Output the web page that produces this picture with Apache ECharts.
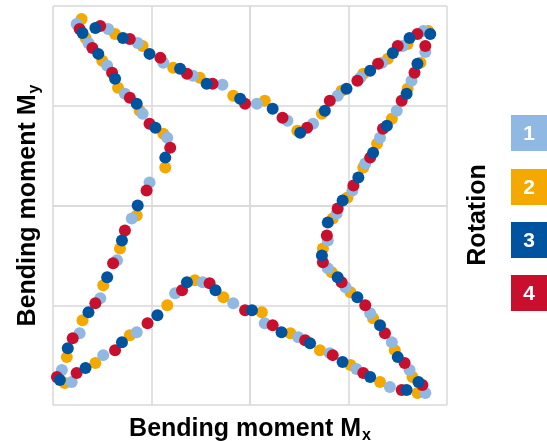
<!DOCTYPE html>
<html>
<head>
<meta charset="utf-8">
<script src="https://cdn.jsdelivr.net/npm/echarts@6/dist/echarts.min.js"></script>
<style>
  html, body { margin: 0; padding: 0; background: #fff; }
  #chart { width: 547px; height: 441px; }
</style>
</head>
<body>
<div id="chart"></div>
<script>
// rotation labels and colours
const rotations = ['1', '2', '3', '4'];
const colors = ['#8fb8e3', '#f5a800', '#00549f', '#c8102e'];

// axis range (no tick labels shown in the original)
const axisMin = -200, axisMax = 200, axisStep = 100;

// measured points [Mx, My] for each rotation, in traversal order
const rot1 = [
  [-176,182],[-144,177],[-114,163],[-88,143],[-58,130],[-28,121],[7,102],[38,85],[64,82],[89,110],
  [112,128],[134,143],[155,160],[176,175],[178,154],[164,125],[149,95],[132,68],[117,42],[104,15],
  [88,-8],[79,-35],[79,-63],[97,-82],[122,-108],[144,-137],[162,-165],[178,-188],[142,-182],[108,-164],
  [81,-148],[49,-132],[15,-118],[-17,-98],[-48,-77],[-76,-88],[-115,-127],[-149,-150],[-181,-177],[-191,-165],
  [-173,-128],[-152,-93],[-135,-55],[-120,-13],[-102,23],[-84,68],[-109,92],[-127,112],[-145,140],[-164,163]
];
const rot2 = [
  [-171,187],[-137,172],[-109,160],[-78,138],[-51,128],[-17,110],[15,105],[48,75],[73,92],[93,115],
  [115,132],[140,147],[160,162],[181,175],[173,143],[160,117],[144,87],[129,62],[115,38],[99,8],
  [84,-13],[74,-43],[83,-67],[102,-87],[125,-113],[147,-145],[165,-172],[170,-188],[132,-177],[102,-160],
  [71,-145],[41,-128],[12,-107],[-27,-92],[-56,-75],[-84,-100],[-122,-130],[-157,-158],[-188,-178],[-186,-152],
  [-170,-115],[-149,-80],[-132,-43],[-115,-10],[-86,38],[-88,72],[-112,95],[-134,118],[-150,145],[-167,168]
];
const rot3 = [
  [-157,178],[-129,168],[-102,152],[-71,137],[-44,122],[-10,107],[23,97],[51,73],[76,95],[98,117],
  [122,135],[145,153],[162,168],[183,172],[170,142],[159,112],[139,80],[125,53],[110,28],[94,5],
  [79,-17],[73,-50],[89,-72],[109,-92],[132,-120],[150,-152],[171,-177],[159,-185],[122,-172],[94,-157],
  [61,-138],[32,-127],[2,-105],[-35,-85],[-64,-77],[-94,-110],[-130,-137],[-167,-163],[-193,-175],[-185,-143],
  [-164,-107],[-145,-72],[-130,-35],[-114,0],[-86,48],[-96,78],[-115,102],[-137,127],[-154,152],[-170,173]
];
const rot4 = [
  [-152,180],[-122,167],[-91,148],[-64,132],[-38,122],[-5,102],[33,88],[58,78],[81,105],[109,125],
  [130,142],[150,160],[170,172],[178,160],[167,133],[154,105],[135,77],[122,48],[105,20],[89,-3],
  [78,-30],[74,-57],[93,-77],[117,-100],[137,-128],[157,-158],[175,-180],[154,-185],[115,-168],[84,-150],
  [56,-135],[23,-120],[-5,-105],[-41,-78],[-69,-85],[-104,-118],[-137,-145],[-176,-168],[-196,-172],[-180,-133],
  [-157,-98],[-139,-58],[-127,-25],[-105,15],[-81,58],[-102,82],[-122,108],[-140,133],[-160,158],[-173,177]
];

const seriesData = [rot1, rot2, rot3, rot4];
// drawing order seen in the picture: orange under, dark blue on top
const zOrder = [3, 2, 5, 4];

const FONT = '"Liberation Sans", Arial, sans-serif';

const chart = echarts.init(document.getElementById('chart'), null, { renderer: 'canvas' });

const gridLine = { lineStyle: { color: '#d9d9d9', width: 1.5 } };

function axis(name, rotate) {
  return {
    type: 'value',
    min: axisMin,
    max: axisMax,
    interval: axisStep,
    name: name,
    nameLocation: 'middle',
    nameGap: rotate ? 10 : 9,
    nameTextStyle: {
      color: '#000',
      fontFamily: FONT,
      fontWeight: 'bold',
      fontSize: 25,
      verticalAlign: rotate ? 'bottom' : 'top',
      rich: {
        sub: { fontFamily: FONT, fontWeight: 'bold', fontSize: 16, padding: [14, 0, 0, 1] }
      }
    },
    axisLine: { show: true, lineStyle: { color: '#d9d9d9', width: 1.5 } },
    axisTick: { show: false },
    axisLabel: { show: false },
    splitLine: gridLine
  };
}

// legend squares built from the rotation list
const legendGraphics = [];
const legendTop = [115, 169, 222, 275];
rotations.forEach((r, i) => {
  legendGraphics.push({
    type: 'rect',
    left: 511, top: legendTop[i],
    shape: { width: 36, height: 36 },
    style: { fill: colors[i] }
  });
  legendGraphics.push({
    type: 'text',
    x: 529, y: legendTop[i] + 19,
    style: {
      text: r, fill: '#fff', font: 'bold 21px ' + FONT,
      align: 'center', verticalAlign: 'middle'
    }
  });
});
legendGraphics.push({
  type: 'text',
  x: 478, y: 215,
  rotation: Math.PI / 2,
  style: {
    text: 'Rotation', fill: '#000', font: 'bold 25px ' + FONT,
    align: 'center', verticalAlign: 'middle'
  }
});

chart.setOption({
  animation: false,
  grid: { left: 53, top: 6, width: 394, height: 399, outerBoundsMode: 'none' },
  xAxis: axis('Bending moment M{sub|x}', false),
  yAxis: axis('Bending moment M{sub|y}', true),
  graphic: legendGraphics,
  series: seriesData.map((d, i) => ({
    type: 'scatter',
    name: rotations[i],
    data: d,
    symbolSize: 12,
    z: zOrder[i],
    itemStyle: { color: colors[i], opacity: 1 }
  }))
});
</script>
</body>
</html>
